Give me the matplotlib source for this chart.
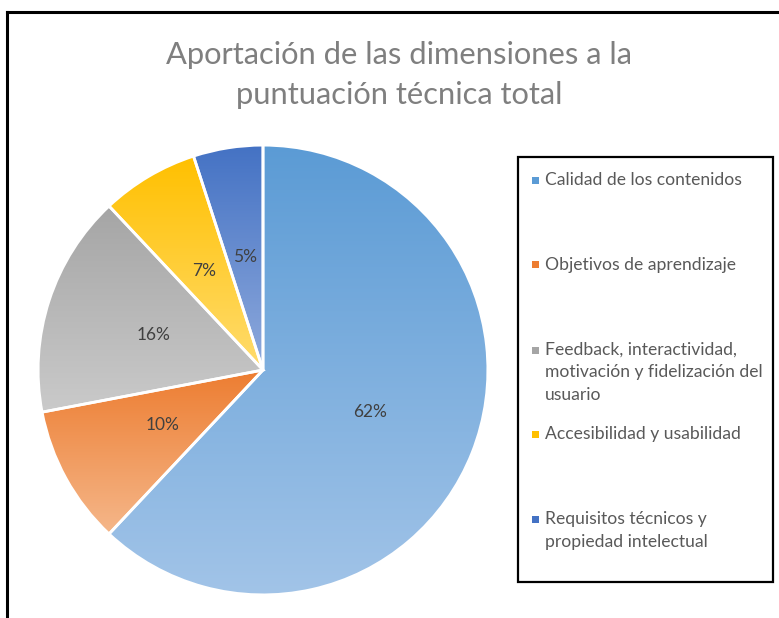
import matplotlib
matplotlib.use("Agg")
import matplotlib.pyplot as plt
import numpy as np
from matplotlib.colors import LinearSegmentedColormap
from matplotlib.patches import Rectangle
from matplotlib.lines import Line2D

plt.rcParams['font.family'] = ['Lato', 'DejaVu Sans']

title = "Aportación de las dimensiones a la\npuntuación técnica total"
labels = ["Calidad de los contenidos",
          "Objetivos de aprendizaje",
          "Feedback, interactividad,\nmotivación y fidelización del\nusuario",
          "Accesibilidad y usabilidad",
          "Requisitos técnicos y\npropiedad intelectual"]
values = [62, 10, 16, 7, 5]
top_colors = ["#5B9BD5", "#ED7D31", "#A5A5A5", "#FFC000", "#4472C4"]
bottom_colors = ["#A2C4E8", "#F5B78A", "#CACACA", "#FFDC6E", "#8FAADC"]

W, H = 779, 618
fig = plt.figure(figsize=(W / 100, H / 100), dpi=100)

cx, cy, r = 263, 370, 226
ax = fig.add_axes([(cx - r) / W, (H - cy - r) / H, 2 * r / W, 2 * r / H])
wedges, texts, autotexts = ax.pie(values, startangle=90, counterclock=False,
                                  radius=1, autopct='%1.0f%%', pctdistance=0.51,
                                  wedgeprops=dict(edgecolor='white', linewidth=2),
                                  textprops=dict(color='#404040', fontsize=12.5))
ax.set_xlim(-1.005, 1.005)
ax.set_ylim(-1.005, 1.005)
ax.set_aspect('equal')
ax.axis('off')

fig.canvas.draw()
for w, tc, bc in zip(wedges, top_colors, bottom_colors):
    verts = w.get_path().vertices
    trans = w.get_patch_transform()
    pts = trans.transform(verts)
    x0, x1 = pts[:, 0].min(), pts[:, 0].max()
    y0, y1 = pts[:, 1].min(), pts[:, 1].max()
    cmap = LinearSegmentedColormap.from_list("g", [bc, tc])
    grad = np.linspace(0, 1, 256).reshape(-1, 1)
    w.set_facecolor('none')
    im = ax.imshow(grad, cmap=cmap, extent=[x0, x1, y0, y1], origin='lower',
                   aspect='auto', zorder=w.get_zorder() - 0.5, interpolation='bilinear')
    im.set_clip_path(w)
ax.set_xlim(-1.005, 1.005)
ax.set_ylim(-1.005, 1.005)
for t in autotexts:
    t.set_zorder(5)

# title
fig.text(399 / W, 1 - 75 / H, title, ha='center', va='center', fontsize=22.2,
         color='#7F7F7F', linespacing=1.55)

# outer frame lines
fig.add_artist(Line2D([7 / W, 7 / W], [0, 1 - 12 / H], color='black', lw=2.2,
                      transform=fig.transFigure))
fig.add_artist(Line2D([7 / W, 1], [1 - 12 / H, 1 - 12 / H], color='black', lw=2.2,
                      transform=fig.transFigure))

# legend box
lx0, ly0, lx1, ly1 = 518, 157, 773, 582
fig.add_artist(Rectangle((lx0 / W, 1 - ly1 / H), (lx1 - lx0) / W, (ly1 - ly0) / H,
                         transform=fig.transFigure, facecolor='white',
                         edgecolor='black', lw=1.6))
entry_y = [180, 265, 350, 434, 519]
for lab, yy, col in zip(labels, entry_y, top_colors):
    fig.add_artist(Rectangle((532 / W, 1 - (yy + 3.5) / H), 7 / W, 7 / H,
                             transform=fig.transFigure, facecolor=col, edgecolor='none'))
    fig.text(545 / W, 1 - (yy - 8) / H, lab, ha='left', va='top', fontsize=12.6,
             color='#595959', linespacing=1.5)

fig.savefig("out.png", dpi=100)
